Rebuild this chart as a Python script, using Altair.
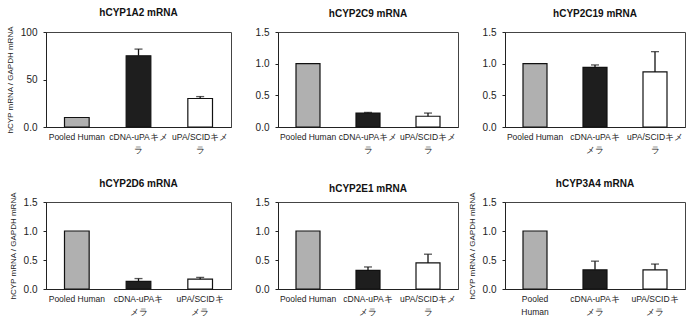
import json
import altair as alt
import pandas as pd

categories = ["Pooled Human", "cDNA-uPAキメラ", "uPA/SCIDキメラ"]
titles = ["hCYP1A2 mRNA", "hCYP2C9 mRNA", "hCYP2C19 mRNA",
          "hCYP2D6 mRNA", "hCYP2E1 mRNA", "hCYP3A4 mRNA"]
means = [
    [10, 75, 30],
    [1.0, 0.22, 0.17],
    [1.0, 0.94, 0.87],
    [1.0, 0.13, 0.17],
    [1.0, 0.32, 0.45],
    [1.0, 0.33, 0.33],
]
errs = [
    [0, 7, 2],
    [0, 0.01, 0.05],
    [0, 0.04, 0.32],
    [0, 0.05, 0.03],
    [0, 0.06, 0.15],
    [0, 0.15, 0.10],
]
y_max = [100, 1.5, 1.5, 1.5, 1.5, 1.5]
y_ticks = [[0, 50, 100]] + [[0, 0.5, 1.0, 1.5]] * 5
label_lines = [
    ["Pooled Human", ["cDNA-uPAキメ", "ラ"], ["uPA/SCIDキメ", "ラ"]],
    ["Pooled Human", ["cDNA-uPAキメ", "ラ"], ["uPA/SCIDキメ", "ラ"]],
    ["Pooled Human", ["cDNA-uPAキ", "メラ"], ["uPA/SCIDキメ", "ラ"]],
    ["Pooled Human", ["cDNA-uPAキ", "メラ"], ["uPA/SCIDキ", "メラ"]],
    ["Pooled Human", ["cDNA-uPAキ", "メラ"], ["uPA/SCIDキメ", "ラ"]],
    [["Pooled", "Human"], ["cDNA-uPAキ", "メラ"], ["uPA/SCIDキ", "メラ"]],
]
y_title_text = "hCYP mRNA / GAPDH mRNA"
show_ytitle = [True, False, False, True, False, True]
fills = ["#b0b0b0", "#1e1e1e", "#ffffff"]
widths = [185, 180, 180, 185, 180, 180]
heights = [95, 95, 95, 87, 87, 87]

FONT = "Liberation Sans"


def panel(i):
    df = pd.DataFrame({
        "cat": categories,
        "mean": means[i],
        "err": errs[i],
        "top": [m + e for m, e in zip(means[i], errs[i])],
    })
    lab_expr = "{}[indexof({}, datum.value)]".format(
        json.dumps(label_lines[i], ensure_ascii=False),
        json.dumps(categories, ensure_ascii=False))
    if i == 0:
        ylab = "datum.value == 0 ? '0.0' : format(datum.value, 'd')"
    else:
        ylab = "format(datum.value, '.1f')"
    x = alt.X("cat:N", sort=categories,
              scale=alt.Scale(paddingInner=0.6, paddingOuter=0.3),
              axis=alt.Axis(title=None, labelAngle=0, labelExpr=lab_expr,
                            labelFontSize=8.5, labelFont=FONT, labelColor="#222",
                            ticks=False, domainColor="#222", labelPadding=5,
                            labelLineHeight=13, labelOverlap=False))
    yaxis = alt.Axis(values=y_ticks[i], tickCount=10, labelExpr=ylab,
                     grid=False, labelOverlap=False,
                     labelFontSize=10, labelFont=FONT, labelColor="#222",
                     tickSize=3, tickColor="#222", domainColor="#222",
                     labelPadding=6,
                     title=y_title_text if show_ytitle[i] else None,
                     titleFontSize=8, titleFont=FONT, titleFontWeight="normal",
                     titleColor="#222", titlePadding=6)
    y = alt.Y("mean:Q", scale=alt.Scale(domain=[0, y_max[i]], nice=False),
              axis=yaxis)
    base = alt.Chart(df)
    bars = base.mark_bar(stroke="#111", strokeWidth=1.2).encode(
        x=x, y=y,
        color=alt.Color("cat:N", scale=alt.Scale(domain=categories, range=fills),
                        legend=None),
    )
    errbase = base.transform_filter("datum.err > 0")
    rule = errbase.mark_rule(color="#111", strokeWidth=1.3).encode(
        x=alt.X("cat:N", sort=categories), y="mean:Q", y2="top:Q")
    cap = errbase.mark_tick(color="#111", thickness=1.3, size=8).encode(
        x=alt.X("cat:N", sort=categories), y="top:Q")
    return alt.layer(bars, rule, cap).properties(
        width=widths[i], height=heights[i],
        title=alt.TitleParams(titles[i], fontSize=10, font=FONT,
                              fontWeight="bold", color="#111",
                              offset=8 if i < 3 else 3),
    )


chart = alt.concat(*[panel(i) for i in range(6)], columns=3,
                   spacing={"row": 75, "column": 47},
                   bounds="flush").properties(
    background="white", padding={"left": 5, "top": 7, "right": 5, "bottom": 5}
).configure_view(stroke="#444", strokeWidth=1)

chart.save("out.html", embed_options={"renderer": "svg", "actions": False})
